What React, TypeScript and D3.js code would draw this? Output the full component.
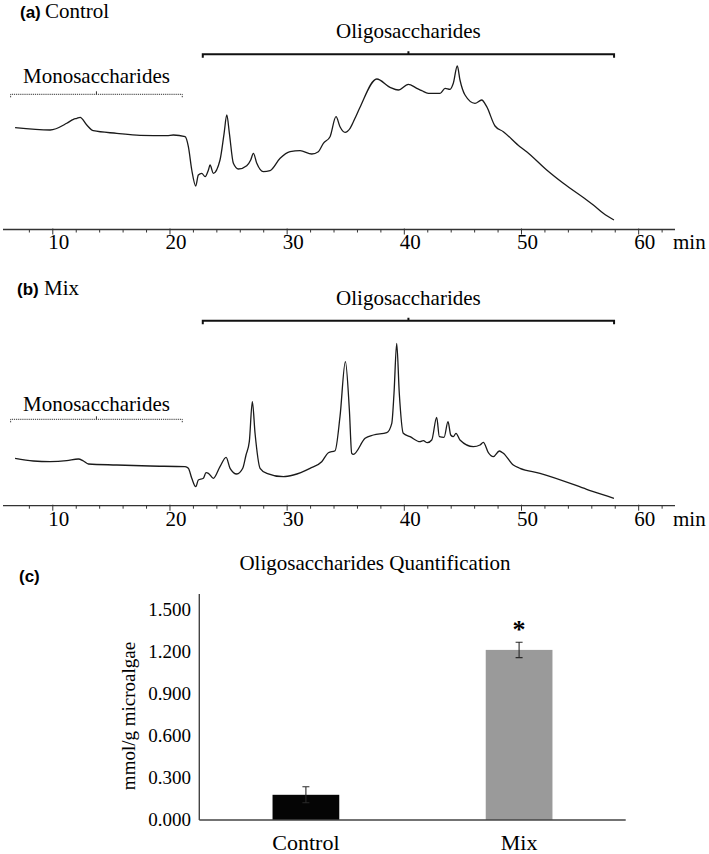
import React from "react";
import * as d3 from "d3";

// retention time (min) and detector signal
const controlTime = [6.78, 9.77, 11.19, 11.76, 12.05, 12.33, 12.9, 13.46, 15.46, 17.45, 19.73, 20.29, 21.29, 21.57, 21.86, 22.2, 22.42, 22.71, 23.0, 23.28, 23.42, 23.7, 24.27, 24.62, 24.85, 25.07, 25.41, 25.84, 26.55, 26.89, 27.12, 27.41, 27.97, 28.54, 29.4, 30.25, 31.1, 32.1, 32.66, 33.09, 33.66, 34.17, 34.51, 34.94, 35.37, 35.79, 36.21, 37.65, 38.78, 39.49, 40.34, 41.06, 41.49, 42.05, 43.05, 43.48, 43.9, 44.18, 44.52, 44.75, 45.18, 46.03, 46.6, 47.03, 47.74, 48.45, 49.87, 50.44, 52.15, 53.57, 55.56, 56.13, 56.98, 57.89];
const controlSignal = [101.8, 99.5, 106.2, 110.2, 111.2, 112.2, 104.5, 98.8, 96.2, 94.2, 93.8, 94.5, 92.8, 82.8, 59.5, 43.5, 54.5, 56.2, 52.8, 59.5, 64.5, 56.2, 69.5, 96.2, 114.5, 96.2, 66.2, 60.5, 63.8, 69.5, 76.2, 66.2, 57.8, 58.8, 71.2, 77.8, 78.8, 75.5, 77.8, 86.2, 92.8, 112.8, 102.8, 97.2, 101.2, 111.2, 122.0, 150.5, 142.2, 139.5, 145.2, 141.2, 138.8, 136.2, 136.2, 141.2, 140.2, 146.2, 163.5, 149.5, 134.5, 126.2, 129.5, 122.8, 103.5, 97.8, 82.8, 77.8, 59.5, 46.2, 29.5, 24.5, 16.2, 9.5];

const mixTime = [6.78, 8.34, 9.77, 11.19, 12.18, 12.61, 13.04, 15.46, 18.3, 21.29, 21.57, 21.86, 22.2, 22.42, 22.85, 23.08, 23.28, 23.7, 24.27, 24.79, 25.13, 25.7, 26.21, 26.49, 26.77, 27.03, 27.26, 27.69, 28.26, 29.68, 30.53, 31.95, 32.95, 33.52, 34.09, 34.51, 34.97, 35.31, 35.51, 35.65, 36.65, 37.36, 38.5, 38.93, 39.12, 39.35, 39.57, 39.91, 40.49, 41.34, 41.62, 41.96, 42.34, 42.76, 42.99, 43.39, 43.73, 43.96, 44.18, 44.41, 44.75, 45.89, 46.46, 46.74, 47.17, 47.59, 48.11, 48.45, 49.3, 49.87, 51.58, 55.56, 56.13, 57.89];
const mixSignal = [47.4, 44.7, 44.0, 45.0, 46.7, 44.7, 41.7, 40.7, 39.7, 39.0, 37.4, 27.4, 19.0, 25.7, 27.4, 33.0, 32.4, 27.4, 39.0, 48.4, 37.4, 31.7, 37.4, 50.7, 64.0, 104.0, 72.4, 37.4, 32.4, 29.0, 30.7, 37.4, 44.0, 53.0, 55.0, 89.0, 144.0, 95.7, 52.4, 51.4, 67.4, 70.7, 73.0, 82.4, 112.4, 162.4, 112.4, 72.4, 69.0, 64.0, 65.0, 63.0, 65.7, 88.4, 69.0, 68.4, 84.0, 70.7, 69.0, 72.4, 65.7, 59.0, 60.7, 63.4, 53.0, 49.0, 54.7, 52.4, 40.7, 37.4, 32.4, 16.4, 14.0, 7.4];

const timeTicks = [8, 10, 12, 14, 16, 18, 20, 22, 24, 26, 28, 30, 32, 34, 36, 38, 40, 42, 44, 46, 48, 50, 52, 54, 56, 58, 60, 62];
const timeLabels = [10, 20, 30, 40, 50, 60];
const monoRange = [6.4, 21.05];
const oligoRange = [22.8, 57.9];

const barCategories = ["Control", "Mix"];
const barMeans = [0.18, 1.215];
const barErrors = [0.057, 0.055];
const barColors = ["#050505", "#9a9a9a"];
const barTicks = [0, 0.3, 0.6, 0.9, 1.2, 1.5];

const serif = { fontFamily: '"Liberation Serif", "Times New Roman", Times, "DejaVu Serif", serif' };
const sans = { fontFamily: '"Liberation Sans", Arial, Helvetica, sans-serif', fontWeight: 700 };

const panels = [
  { tag: "(a)", name: "Control", tagX: 20, nameX: 45, time: controlTime, signal: controlSignal,
    axisY: 229.5, titleY: 17.5, oligoY: 54.3, oligoTextY: 37.5, monoY: 94.3, monoTextY: 83.3, labelDy: 19 },
  { tag: "(b)", name: "Mix", tagX: 17, nameX: 44, time: mixTime, signal: mixSignal,
    axisY: 505.7, titleY: 295, oligoY: 320.7, oligoTextY: 304.5, monoY: 419.3, monoTextY: 410.5, labelDy: 20.5 },
];

const x = d3.scaleLinear().domain([5.75, 63.1]).range([3, 675]);

function Chromatogram({ p }) {
  const y = d3.scaleLinear().domain([0, 200]).range([p.axisY, p.axisY - 200]);
  const line = d3
    .line()
    .x((d) => x(d[0]))
    .y((d) => y(d[1]))
    .curve(d3.curveMonotoneX);
  const pts = p.time.map((t, i) => [t, p.signal[i]]);
  const monoMid = (monoRange[0] + monoRange[1]) / 2;
  const oligoMid = (oligoRange[0] + oligoRange[1]) / 2;

  return (
    <g>
      <text x={p.tagX} y={p.titleY} style={sans} fontSize={17}>{p.tag}</text>
      <text x={p.nameX} y={p.titleY} style={serif} fontSize={21}>{p.name}</text>

      {/* oligosaccharides bracket */}
      <text x={x(oligoMid)} y={p.oligoTextY} textAnchor="middle" style={serif} fontSize={21}>Oligosaccharides</text>
      <path
        d={`M${x(oligoRange[0])},${p.oligoY + 3.5}V${p.oligoY}H${x(oligoRange[1])}V${p.oligoY + 3.5}M${x(oligoMid)},${p.oligoY}v-3`}
        fill="none" stroke="#111" strokeWidth={2}
      />

      {/* monosaccharides bracket */}
      <text x={x(monoMid)} y={p.monoTextY} textAnchor="middle" style={serif} fontSize={21}>Monosaccharides</text>
      <path
        d={`M${x(monoRange[0])},${p.monoY + 3}V${p.monoY}H${x(monoRange[1])}V${p.monoY + 3}`}
        fill="none" stroke="#333" strokeWidth={1} strokeDasharray="1.2,0.9"
      />
      <path d={`M${x(monoMid)},${p.monoY}v-3`} stroke="#333" strokeWidth={1} />

      <path d={line(pts)} fill="none" stroke="#1a1a1a" strokeWidth={1.3} strokeLinejoin="round" />

      {/* time axis */}
      <line x1={x.range()[0]} x2={x.range()[1]} y1={p.axisY} y2={p.axisY} stroke="#333" strokeWidth={1.3} />
      {timeTicks.map((t) => (
        <line key={t} x1={x(t)} x2={x(t)} y1={p.axisY - (timeLabels.includes(t) ? 1 : 0)} y2={p.axisY + (timeLabels.includes(t) ? 5 : 3)} stroke="#333" strokeWidth={1} />
      ))}
      {timeLabels.map((t) => (
        <text key={t} x={x(t) + 6} y={p.axisY + p.labelDy} textAnchor="middle" style={serif} fontSize={21}>{t}</text>
      ))}
      <text x={673} y={p.axisY + p.labelDy} style={serif} fontSize={21}>min</text>
    </g>
  );
}

function BarPanel() {
  const left = 199.3, right = 625.7, base = 820;
  const xb = d3.scaleBand().domain(barCategories).range([left, right]).paddingInner(0.687).paddingOuter(0.3435);
  const yb = d3.scaleLinear().domain([0, 1.5]).range([base, 610]);
  const fmt = d3.format(".3f");

  return (
    <g>
      <text x={19} y={582} style={sans} fontSize={17}>(c)</text>
      <text x={375} y={570} textAnchor="middle" style={serif} fontSize={21}>Oligosaccharides Quantification</text>

      {barCategories.map((c, i) => (
        <g key={c}>
          <rect x={xb(c)} y={yb(barMeans[i])} width={xb.bandwidth()} height={base - yb(barMeans[i])} fill={barColors[i]} />
          <path
            d={`M${xb(c) + xb.bandwidth() / 2},${yb(barMeans[i] + barErrors[i])}V${yb(barMeans[i] - barErrors[i])}M${xb(c) + xb.bandwidth() / 2 - 3.5},${yb(barMeans[i] + barErrors[i])}h7M${xb(c) + xb.bandwidth() / 2 - 3.5},${yb(barMeans[i] - barErrors[i])}h7`}
            stroke="#2a2a2a" strokeWidth={1.1} fill="none"
          />
          <text x={xb(c) + xb.bandwidth() / 2} y={850} textAnchor="middle" style={serif} fontSize={22}>{c}</text>
        </g>
      ))}
      <text x={xb("Mix") + xb.bandwidth() / 2} y={yb(barMeans[1] + barErrors[1]) - 4} textAnchor="middle" style={{ ...serif, fontWeight: 700 }} fontSize={26}>*</text>

      <line x1={left} x2={left} y1={594} y2={base} stroke="#444" strokeWidth={1.4} />
      <line x1={left} x2={right} y1={base} y2={base} stroke="#444" strokeWidth={1.4} />
      {barTicks.map((t) => (
        <text key={t} x={191} y={yb(t) + 6} textAnchor="end" style={serif} fontSize={19}>{fmt(t)}</text>
      ))}
      <text transform="translate(135,716) rotate(-90)" textAnchor="middle" style={serif} fontSize={19}>mmol/g microalgae</text>
    </g>
  );
}

export default function App() {
  return (
    <svg width={709} height={854} style={{ position: "absolute", left: 0, top: 0, background: "#fff" }}>
      <rect width={709} height={854} fill="#fff" />
      {panels.map((p) => (
        <Chromatogram key={p.tag} p={p} />
      ))}
      <BarPanel />
    </svg>
  );
}
